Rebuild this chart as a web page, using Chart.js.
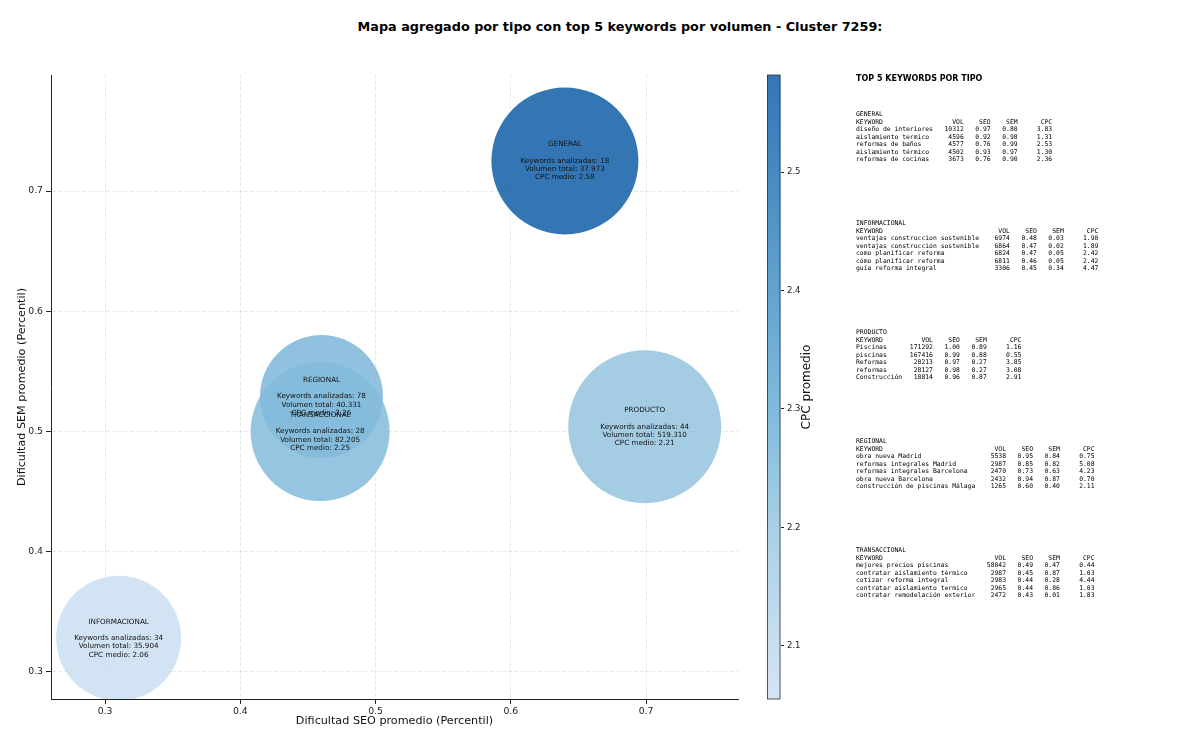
<!DOCTYPE html>
<html>
<head>
<meta charset="utf-8">
<script src="https://cdn.jsdelivr.net/npm/chart.js@4.4.0/dist/chart.umd.min.js"></script>
<style>
  body { margin: 0; background: #fff; width: 1200px; height: 745px; overflow: hidden; position: relative; }
  #mainChart { position: absolute; left: 0; top: 0; }
  #cbChart { position: absolute; left: 767px; top: 0; }
  #title { position: absolute; left: 0; width: 1240px; top: 19px; text-align: center;
           font: bold 12.8px "DejaVu Sans"; color: #000; }
  #panelTitle { position: absolute; left: 856px; top: 73.5px; font: bold 8px "DejaVu Sans"; color: #000; }
  pre.block { position: absolute; left: 856px; margin: 0; font-family: "DejaVu Sans Mono"; font-size: 6.4px;
              line-height: 7.55px; color: #000; }
</style>
</head>
<body>
<div id="title">Mapa agregado por tipo con top 5 keywords por volumen - Cluster 7259:</div>
<canvas id="mainChart" width="1200" height="745"></canvas>
<canvas id="cbChart" width="60" height="745"></canvas>
<div id="panelTitle">TOP 5 KEYWORDS POR TIPO</div>
<script>
// Datos agregados por tipo
const tipos = ['GENERAL', 'INFORMACIONAL', 'PRODUCTO', 'REGIONAL', 'TRANSACCIONAL'];
const seoMedio = [0.640, 0.310, 0.699, 0.460, 0.459];
const semMedio = [0.725, 0.328, 0.504, 0.529, 0.500];
const keywordsAnalizadas = [18, 34, 44, 78, 28];
const volumenTotal = [37973, 35904, 519310, 40331, 82205];
const cpcMedio = [2.58, 2.06, 2.21, 2.26, 2.25];
const bubbleRadius = [73.5, 62.5, 76.5, 61.5, 69.5];

// Ticks
const xTicks = [0.3, 0.4, 0.5, 0.6, 0.7];
const yTicks = [0.3, 0.4, 0.5, 0.6, 0.7];
const cbTicks = [2.1, 2.2, 2.3, 2.4, 2.5];

// Top 5 keywords por tipo: [keyword, vol, seo, sem, cpc]
const kwGeneral = [
    ['diseño de interiores', 10312, 0.97, 0.80, 3.83],
    ['aislamiento termico', 4596, 0.92, 0.98, 1.31],
    ['reformas de baños', 4577, 0.76, 0.99, 2.53],
    ['aislamiento térmico', 4502, 0.93, 0.97, 1.30],
    ['reformas de cocinas', 3673, 0.76, 0.90, 2.36]
];
const kwInformacional = [
    ['ventajas construccion sostenible', 6974, 0.48, 0.03, 1.90],
    ['ventajas construcción sostenible', 6864, 0.47, 0.02, 1.89],
    ['como planificar reforma', 6824, 0.47, 0.05, 2.42],
    ['cómo planificar reforma', 6811, 0.46, 0.05, 2.42],
    ['guía reforma integral', 3306, 0.45, 0.34, 4.47]
];
const kwProducto = [
    ['Piscinas', 171292, 1.00, 0.89, 1.16],
    ['piscinas', 167416, 0.99, 0.88, 0.55],
    ['Reformas', 28213, 0.97, 0.27, 3.85],
    ['reformas', 28127, 0.98, 0.27, 3.08],
    ['Construcción', 18814, 0.96, 0.87, 2.91]
];
const kwRegional = [
    ['obra nueva Madrid', 5538, 0.95, 0.84, 0.75],
    ['reformas integrales Madrid', 2987, 0.85, 0.82, 5.08],
    ['reformas integrales Barcelona', 2470, 0.73, 0.63, 4.23],
    ['obra nueva Barcelona', 2432, 0.94, 0.87, 0.70],
    ['construcción de piscinas Málaga', 1265, 0.60, 0.40, 2.11]
];
const kwTransaccional = [
    ['mejores precios piscinas', 58042, 0.49, 0.47, 0.44],
    ['contratar aislamiento térmico', 2987, 0.45, 0.87, 1.03],
    ['cotizar reforma integral', 2983, 0.44, 0.28, 4.44],
    ['contratar aislamiento termico', 2965, 0.44, 0.86, 1.03],
    ['contratar remodelación exterior', 2472, 0.43, 0.01, 1.83]
];

// colour scale limits (CPC)
const cbMin = 2.055, cbMax = 2.582;
const ALPHA = 0.86;

// matplotlib "Blues" stops
const BLUES = [[0, [247, 251, 255]], [0.125, [222, 235, 247]], [0.25, [198, 219, 239]], [0.375, [158, 202, 225]],
    [0.5, [107, 174, 214]], [0.625, [66, 146, 198]], [0.75, [33, 113, 181]], [0.875, [8, 81, 156]], [1, [8, 48, 107]]];

function blues(t) {
    for (let i = 1; i < BLUES.length; i++) {
        if (t <= BLUES[i][0]) {
            const [t0, c0] = BLUES[i - 1], [t1, c1] = BLUES[i];
            const f = (t - t0) / (t1 - t0);
            return c0.map((c, k) => Math.round(c + (c1[k] - c) * f));
        }
    }
    return BLUES[BLUES.length - 1][1];
}
function cpcColor(v) {
    const t = 0.22 + 0.6 * (v - cbMin) / (cbMax - cbMin);
    const c = blues(Math.min(1, Math.max(0, t)));
    return `rgba(${c[0]}, ${c[1]}, ${c[2]}, ${ALPHA})`;
}
function fmtMiles(n) {
    return String(n).replace(/\B(?=(\d{3})+(?!\d))/g, '.');
}

// Texto dentro de cada burbuja
const bubbleLabels = {
    id: 'bubbleLabels',
    afterDatasetsDraw(chart) {
        const ctx = chart.ctx;
        const meta = chart.getDatasetMeta(0);
        ctx.save();
        ctx.font = '7.2px "DejaVu Sans"';
        ctx.fillStyle = '#111';
        ctx.textAlign = 'center';
        ctx.textBaseline = 'middle';
        const lh = 8.3;
        meta.data.forEach((pt, i) => {
            const lines = [tipos[i], '', 'Keywords analizadas: ' + keywordsAnalizadas[i],
                'Volumen total: ' + fmtMiles(volumenTotal[i]), 'CPC medio: ' + cpcMedio[i].toFixed(2)];
            lines.forEach((l, k) => ctx.fillText(l, pt.x, pt.y + (k - 2) * lh));
        });
        ctx.restore();
    }
};

const tickFont = { family: 'DejaVu Sans', size: 9.3 };
const gridOpts = { color: 'rgba(176,176,176,0.35)', lineWidth: 0.8, tickColor: '#222', tickLength: 5, tickWidth: 1 };

new Chart(document.getElementById('mainChart').getContext('2d'), {
    type: 'bubble',
    data: {
        datasets: [{
            data: tipos.map((t, i) => ({ x: seoMedio[i], y: semMedio[i], r: bubbleRadius[i] })),
            backgroundColor: cpcMedio.map(cpcColor),
            borderWidth: 0,
            clip: 0
        }]
    },
    options: {
        responsive: false,
        animation: false,
        layout: { autoPadding: false, padding: { left: 0, top: 75, right: 462, bottom: 0 } },
        plugins: { legend: { display: false }, tooltip: { enabled: false } },
        elements: { point: { hoverRadius: 0, hoverBorderWidth: 0 } },
        scales: {
            x: {
                type: 'linear', min: 0.26, max: 0.768,
                afterBuildTicks: s => { s.ticks = xTicks.map(v => ({ value: v })); },
                afterFit: s => { s.height = 46; },
                ticks: { font: tickFont, color: '#222', padding: 2, callback: v => v.toFixed(1), maxRotation: 0 },
                grid: gridOpts,
                border: { display: true, color: '#222', width: 1, dash: [4, 2] },
                title: { display: true, text: 'Dificultad SEO promedio (Percentil)', color: '#111',
                    font: { family: 'DejaVu Sans', size: 11.2 }, padding: { top: 0, bottom: 17 } }
            },
            y: {
                type: 'linear', min: 0.2775, max: 0.7965,
                afterBuildTicks: s => { s.ticks = yTicks.map(v => ({ value: v })); },
                afterFit: s => { s.width = 51; },
                ticks: { font: tickFont, color: '#222', padding: 3, callback: v => v.toFixed(1) },
                grid: gridOpts,
                border: { display: true, color: '#222', width: 1, dash: [4, 2] },
                title: { display: true, text: 'Dificultad SEM promedio (Percentil)', color: '#111',
                    font: { family: 'DejaVu Sans', size: 11.2 }, padding: { top: 15, bottom: 0 } }
            }
        }
    },
    plugins: [bubbleLabels]
});

// Barra de color (CPC promedio)
const cbDecor = {
    id: 'cbDecor',
    afterDraw(chart) {
        const { ctx, chartArea } = chart;
        ctx.save();
        ctx.strokeStyle = '#333';
        ctx.lineWidth = 0.8;
        ctx.strokeRect(chartArea.left + 0.5, chartArea.top, chartArea.right - chartArea.left - 1, chartArea.bottom - chartArea.top);
        ctx.translate(40, (chartArea.top + chartArea.bottom) / 2);
        ctx.rotate(-Math.PI / 2);
        ctx.font = '12px "DejaVu Sans"';
        ctx.fillStyle = '#111';
        ctx.textAlign = 'center';
        ctx.textBaseline = 'middle';
        ctx.fillText('CPC promedio', 0, 0);
        ctx.restore();
    }
};

new Chart(document.getElementById('cbChart').getContext('2d'), {
    type: 'bar',
    data: {
        labels: ['CPC'],
        datasets: [{
            data: [[cbMin, cbMax]],
            backgroundColor: context => {
                const { ctx, chartArea } = context.chart;
                if (!chartArea) return cpcColor(cbMin);
                const g = ctx.createLinearGradient(0, chartArea.bottom, 0, chartArea.top);
                for (let k = 0; k <= 20; k++) {
                    g.addColorStop(k / 20, cpcColor(cbMin + (cbMax - cbMin) * k / 20));
                }
                return g;
            },
            borderWidth: 0,
            categoryPercentage: 1,
            barPercentage: 1
        }]
    },
    options: {
        responsive: false,
        animation: false,
        layout: { autoPadding: false, padding: { left: 0, top: 75, right: 0, bottom: 46 } },
        plugins: { legend: { display: false }, tooltip: { enabled: false } },
        scales: {
            x: { display: false },
            y: {
                position: 'right', min: cbMin, max: cbMax,
                afterBuildTicks: s => { s.ticks = cbTicks.map(v => ({ value: v })); },
                afterFit: s => { s.width = 46.5; },
                ticks: { font: { family: 'DejaVu Sans', size: 8.5 }, color: '#222', padding: 3, callback: v => v.toFixed(1) },
                grid: { drawOnChartArea: false, tickColor: '#222', tickLength: 3.5, tickWidth: 1 },
                border: { display: false }
            }
        }
    },
    plugins: [cbDecor]
});

// Panel de top keywords
function buildBlock(name, rows) {
    const w = Math.max(...rows.map(r => r[0].length));
    const out = [name,
        'KEYWORD'.padEnd(w) + 'VOL'.padStart(8) + 'SEO'.padStart(7) + 'SEM'.padStart(7) + 'CPC'.padStart(9)];
    rows.forEach(r => {
        out.push(r[0].padEnd(w) + String(r[1]).padStart(8) + r[2].toFixed(2).padStart(7) +
            r[3].toFixed(2).padStart(7) + r[4].toFixed(2).padStart(9));
    });
    return out.join('\n');
}
const blocks = [kwGeneral, kwInformacional, kwProducto, kwRegional, kwTransaccional];
blocks.forEach((rows, i) => {
    const pre = document.createElement('pre');
    pre.className = 'block';
    pre.style.top = (111.2 + i * 109) + 'px';
    pre.textContent = buildBlock(tipos[i], rows);
    document.body.appendChild(pre);
});
</script>
</body>
</html>
